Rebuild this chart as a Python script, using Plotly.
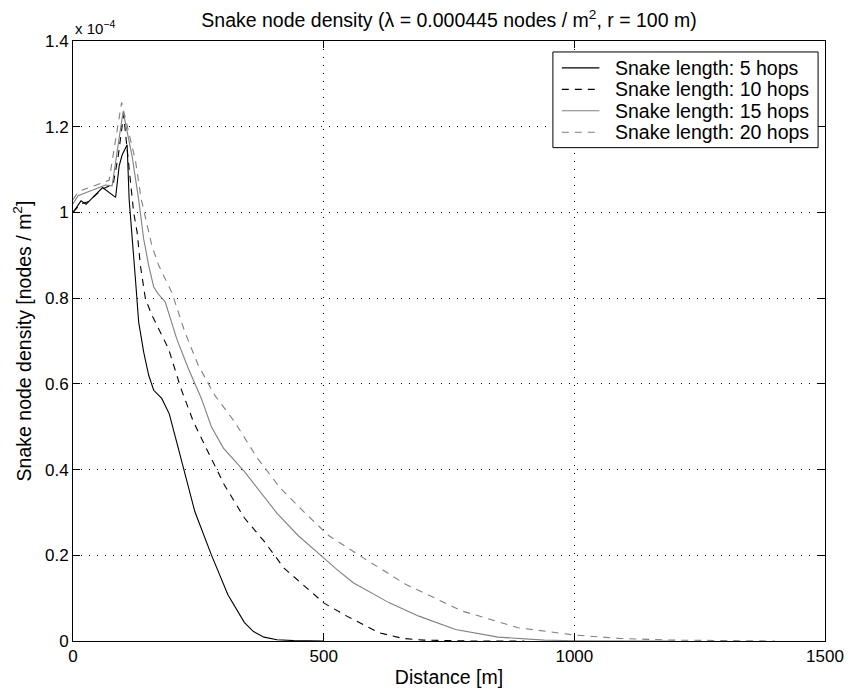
import plotly.graph_objects as go

# Distance [m] and density (units of 1e-4 nodes / m^2)
x_5 = [0, 16, 26, 59, 85, 92, 98, 108, 112, 118, 125, 131, 141, 151, 161, 177, 192, 210, 243, 276, 309, 342, 360, 381, 407, 440, 480, 500]
y_5 = [1.0, 1.027, 1.019, 1.058, 1.035, 1.108, 1.134, 1.158, 1.03, 0.93, 0.837, 0.744, 0.674, 0.62, 0.585, 0.566, 0.53, 0.45, 0.302, 0.201, 0.108, 0.043, 0.022, 0.009, 0.003, 0.001, 0.0, 0.0]

x_10 = [0, 15, 30, 59, 80, 90, 101, 121, 128, 134.5, 144.5, 157.5, 174, 190.5, 215, 240, 269, 302, 342, 381, 421, 467, 500, 546, 611, 658, 700, 800, 900]
y_10 = [1.0, 1.02, 1.025, 1.055, 1.065, 1.13, 1.228, 1.0, 0.953, 0.876, 0.798, 0.76, 0.721, 0.682, 0.59, 0.512, 0.442, 0.364, 0.287, 0.233, 0.170, 0.124, 0.089, 0.058, 0.019, 0.006, 0.002, 0.0, 0.0]

x_15 = [0, 10, 65, 78, 100, 118, 131, 141, 151, 161, 170, 184, 207, 230, 256, 276, 300, 342, 407, 450, 500, 526, 559, 631, 690, 763, 848, 940, 1000, 1100, 1200]
y_15 = [1.02, 1.039, 1.064, 1.062, 1.236, 1.13, 1.03, 0.938, 0.876, 0.826, 0.81, 0.791, 0.705, 0.636, 0.566, 0.5, 0.45, 0.395, 0.298, 0.245, 0.194, 0.167, 0.136, 0.089, 0.058, 0.027, 0.009, 0.002, 0.0005, 0.0, 0.0]

x_20 = [0, 11, 65, 72, 97, 124.7, 136, 157.5, 171, 197, 223, 250, 283, 322, 368, 414, 467, 510, 579, 664, 776, 888, 1000, 1092, 1200, 1300, 1400]
y_20 = [1.03, 1.049, 1.072, 1.075, 1.257, 1.12, 1.031, 0.922, 0.876, 0.814, 0.721, 0.643, 0.573, 0.512, 0.426, 0.356, 0.294, 0.246, 0.194, 0.132, 0.070, 0.031, 0.014, 0.006, 0.002, 0.0005, 0.0]

names = ["Snake length: 5 hops", "Snake length: 10 hops", "Snake length: 15 hops", "Snake length: 20 hops"]

y_tickvals = [0, 0.2, 0.4, 0.6, 0.8, 1.0, 1.2, 1.4]
y_ticktext = ["0", "0.2", "0.4", "0.6", "0.8", "1", "1.2", "1.4"]
x_tickvals = [0, 500, 1000, 1500]
x_ticktext = ["0", "500", "1000", "1500"]

FONT = "Liberation Sans, Arial, sans-serif"
GREY = "rgb(128,128,128)"
DASH = "7px,6px"

W, H = 856, 696
ML, MR, MT, MB = 73, 23, 41, 53
PW, PH = W - ML - MR, H - MT - MB


def px_x(p):
    return (p - ML) / PW


def px_y(p):
    return (H - MB - p) / PH


fig = go.Figure()
styles = [("black", "solid"), ("black", DASH), (GREY, "solid"), (GREY, DASH)]
data = [(x_5, y_5), (x_10, y_10), (x_15, y_15), (x_20, y_20)]
for (xs, ys), (col, dash), nm in zip(data, styles, names):
    fig.add_trace(go.Scatter(x=xs, y=ys, mode="lines", name=nm, showlegend=False,
                             line=dict(color=col, dash=dash, width=1.1)))

axis_common = dict(showline=True, linecolor="black", linewidth=1, mirror="ticks",
                   ticks="inside", ticklen=7, tickcolor="black", tickwidth=1,
                   showgrid=True, gridcolor="black", gridwidth=1, griddash="1px,7px",
                   zeroline=False, tickfont=dict(family=FONT, size=17, color="black"))

fig.update_xaxes(range=[0, 1500], tickvals=x_tickvals, ticktext=x_ticktext,
                 title=dict(text="Distance [m]", font=dict(family=FONT, size=19.5, color="black"), standoff=4),
                 **axis_common)
fig.update_yaxes(range=[0, 1.4], tickvals=y_tickvals, ticktext=y_ticktext,
                 title=dict(text="Snake node density [nodes / m<sup>2</sup>]", font=dict(family=FONT, size=19.5, color="black"), standoff=8),
                 **axis_common)

# legend box drawn to match the reference legend layout
shapes = [dict(type="rect", xref="paper", yref="paper",
               x0=px_x(558), x1=px_x(826), y0=px_y(148), y1=px_y(52),
               line=dict(color="black", width=1), fillcolor="white", layer="above")]
annotations = [dict(text="x 10<sup>−4</sup>", xref="paper", yref="paper",
                    x=0, y=1, xanchor="left", yanchor="bottom", yshift=2,
                    showarrow=False, font=dict(family=FONT, size=15, color="black"))]
row_y = [68, 89.5, 111, 132.5]
for ry, (col, dash), nm in zip(row_y, styles, names):
    shapes.append(dict(type="line", xref="paper", yref="paper",
                       x0=px_x(567), x1=px_x(605), y0=px_y(ry), y1=px_y(ry),
                       line=dict(color=col, dash=dash, width=1.1), layer="above"))
    annotations.append(dict(text=nm, xref="paper", yref="paper",
                            x=px_x(619), y=px_y(ry), xanchor="left", yanchor="middle",
                            showarrow=False, font=dict(family=FONT, size=19.5, color="black")))

fig.update_layout(
    width=W, height=H,
    margin=dict(l=ML, r=MR, t=MT, b=MB),
    paper_bgcolor="white", plot_bgcolor="white",
    font=dict(family=FONT, color="black"),
    title=dict(text="Snake node density (λ = 0.000445 nodes / m<sup>2</sup>, r = 100 m)",
               x=0.5, xref="paper", xanchor="center",
               y=1 - 20 / H, yref="container", yanchor="middle",
               font=dict(family=FONT, size=19.5, color="black")),
    showlegend=False,
    shapes=shapes,
    annotations=annotations,
)

fig.write_html("out.html")
